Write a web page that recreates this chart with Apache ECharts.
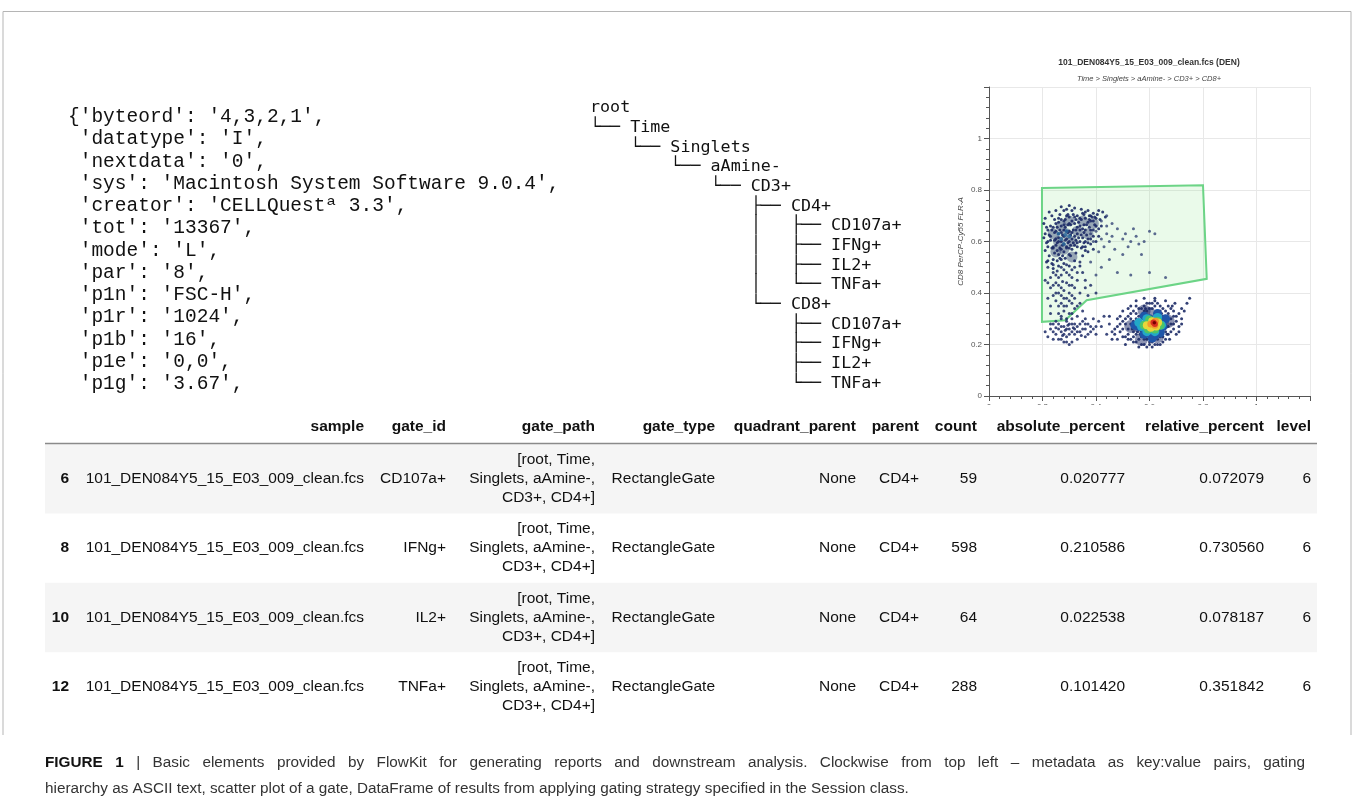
<!DOCTYPE html>
<html>
<head>
<meta charset="utf-8">
<title>FlowKit report elements</title>
<script src="https://cdn.jsdelivr.net/npm/echarts@6/dist/echarts.min.js"></script>
<style>
    body { margin: 0; background: #fff; }
    #chart { width: 1354px; height: 802px; }
</style>
</head>
<body>
<div id="chart"></div>
<script>
// metadata dict (top left)
const metaLines = [
    "{'byteord': '4,3,2,1',",
    " 'datatype': 'I',",
    " 'nextdata': '0',",
    " 'sys': 'Macintosh System Software 9.0.4',",
    " 'creator': 'CELLQuestª 3.3',",
    " 'tot': '13367',",
    " 'mode': 'L',",
    " 'par': '8',",
    " 'p1n': 'FSC-H',",
    " 'p1r': '1024',",
    " 'p1b': '16',",
    " 'p1e': '0,0',",
    " 'p1g': '3.67',"
];

// gating hierarchy as ascii
const treeLines = [
    'root',
    '└── Time',
    '    └── Singlets',
    '        └── aAmine-',
    '            └── CD3+',
    '                ├── CD4+',
    '                │   ├── CD107a+',
    '                │   ├── IFNg+',
    '                │   ├── IL2+',
    '                │   └── TNFa+',
    '                └── CD8+',
    '                    ├── CD107a+',
    '                    ├── IFNg+',
    '                    ├── IL2+',
    '                    └── TNFa+'
];

// scatter plot
const plotTitle = '101_DEN084Y5_15_E03_009_clean.fcs (DEN)';
const plotSubtitle = 'Time > Singlets > aAmine- > CD3+ > CD8+';
const yAxisName = 'CD8 PerCP-Cy55 FLR-A';

const gatePolygon = [[0.198, 0.808], [0.8, 0.818], [0.814, 0.455], [0.365, 0.372], [0.285, 0.294], [0.198, 0.288]];

const cd8Points = [
    [0.23,0.62],[0.24,0.58],[0.25,0.64],[0.26,0.60],[0.27,0.66],[0.28,0.62],[0.29,0.58],[0.30,0.64],[0.31,0.61],[0.32,0.67],
    [0.33,0.63],[0.34,0.60],[0.26,0.55],[0.27,0.57],[0.28,0.68],[0.29,0.70],[0.30,0.55],[0.31,0.68],[0.25,0.67],[0.24,0.53],
    [0.22,0.60],[0.23,0.66],[0.35,0.65],[0.36,0.69],[0.33,0.70],[0.26,0.69],[0.27,0.53],[0.28,0.56],[0.29,0.64],[0.30,0.60],
    [0.31,0.57],[0.32,0.62],[0.33,0.58],[0.34,0.66],[0.25,0.61],[0.26,0.63],[0.27,0.60],[0.28,0.59],[0.29,0.61],[0.30,0.67],
    [0.255,0.565],[0.265,0.645],[0.275,0.625],[0.285,0.655],[0.295,0.595],[0.305,0.625],[0.315,0.645],[0.325,0.605],[0.235,0.575],[0.245,0.605],
    [0.215,0.655],[0.225,0.545],[0.345,0.625],[0.355,0.595],[0.365,0.665],[0.375,0.70],[0.38,0.68],[0.39,0.71],[0.40,0.69],[0.41,0.72],
    [0.37,0.72],[0.35,0.71],[0.32,0.73],[0.30,0.74],[0.28,0.72],[0.265,0.705],[0.245,0.685],[0.235,0.70],[0.22,0.58],[0.21,0.63],
    [0.205,0.67],[0.215,0.52],[0.245,0.635],[0.255,0.595],[0.285,0.605],[0.295,0.635],[0.305,0.585],[0.315,0.595],[0.335,0.675],[0.275,0.585],
    [0.265,0.535],[0.285,0.535],[0.305,0.545],[0.325,0.555],[0.345,0.575],[0.235,0.515],[0.255,0.525],[0.295,0.665],[0.325,0.685],[0.355,0.635],
    [0.215,0.595],[0.225,0.625],[0.235,0.645],[0.245,0.555],[0.255,0.655],[0.265,0.575],[0.275,0.545],[0.285,0.685],[0.295,0.705],[0.305,0.665],
    [0.315,0.705],[0.325,0.645],[0.335,0.615],[0.345,0.685],[0.355,0.665],[0.365,0.625],[0.375,0.655],[0.385,0.695],[0.395,0.665],[0.405,0.705],
    [0.415,0.685],[0.425,0.715],[0.435,0.695],[0.39,0.645],[0.37,0.595],[0.36,0.565],[0.35,0.545],[0.34,0.505],[0.32,0.525],[0.30,0.505],
    [0.28,0.515],[0.26,0.505],[0.24,0.495],[0.22,0.525],[0.21,0.565],[0.205,0.615],[0.21,0.69],[0.225,0.715],[0.25,0.72],[0.27,0.735],
    [0.29,0.725],[0.31,0.72],[0.345,0.725],[0.36,0.715],[0.23,0.605],[0.24,0.575],[0.25,0.585],[0.26,0.615],[0.27,0.635],[0.28,0.645],
    [0.29,0.575],[0.30,0.575],[0.31,0.635],[0.32,0.585],[0.33,0.655],[0.34,0.645],[0.26,0.675],[0.28,0.665],[0.30,0.695],[0.32,0.695],
    [0.24,0.655],[0.22,0.645],[0.27,0.685],[0.33,0.595],[0.35,0.615],[0.37,0.675],[0.38,0.645],[0.36,0.645],
    [0.37,0.61],[0.38,0.59],[0.39,0.62],[0.40,0.60],[0.41,0.65],[0.39,0.68],[0.40,0.66],[0.38,0.70],[0.36,0.58],[0.37,0.56],
    [0.39,0.57],[0.41,0.62],[0.42,0.66],[0.36,0.60],[0.38,0.61],[0.35,0.58],[0.34,0.69],[0.355,0.705],[0.375,0.685],[0.395,0.695]
];

const cd8Sparse = [
    [0.40,0.64],[0.42,0.61],[0.44,0.63],[0.43,0.58],[0.45,0.60],[0.46,0.62],[0.47,0.57],[0.48,0.65],[0.50,0.61],[0.51,0.63],
    [0.52,0.58],[0.53,0.60],[0.55,0.62],[0.56,0.59],[0.58,0.60],[0.60,0.64],[0.62,0.63],[0.57,0.55],[0.50,0.55],[0.45,0.53],
    [0.42,0.50],[0.48,0.48],[0.53,0.47],[0.60,0.48],[0.66,0.46],[0.44,0.66],[0.41,0.56],[0.39,0.60],[0.46,0.67],[0.54,0.65],
    [0.38,0.52],[0.40,0.47],[0.42,0.68],[0.44,0.70],[0.38,0.63]
];

const cd8Trail = [
    [0.22,0.50],[0.24,0.48],[0.26,0.46],[0.28,0.49],[0.30,0.47],[0.32,0.50],[0.25,0.44],[0.27,0.42],[0.29,0.44],[0.31,0.43],
    [0.33,0.45],[0.23,0.42],[0.26,0.40],[0.28,0.38],[0.30,0.40],[0.32,0.38],[0.27,0.36],[0.29,0.35],[0.31,0.36],[0.25,0.37],
    [0.28,0.33],[0.30,0.32],[0.32,0.34],[0.34,0.36],[0.26,0.32],[0.22,0.38],[0.21,0.45],[0.35,0.48],[0.36,0.42],[0.24,0.51],
    [0.29,0.51],[0.34,0.52],[0.27,0.47],[0.31,0.46],[0.25,0.40],[0.23,0.35],[0.37,0.39],[0.33,0.31],[0.255,0.485],[0.275,0.445],
    [0.23,0.46],[0.25,0.47],[0.27,0.50],[0.29,0.48],[0.31,0.49],[0.33,0.48],[0.24,0.43],[0.26,0.43],[0.28,0.41],[0.30,0.43],
    [0.32,0.42],[0.34,0.40],[0.24,0.39],[0.27,0.39],[0.29,0.38],[0.31,0.39],[0.26,0.35],[0.28,0.35],[0.30,0.37],[0.33,0.35],
    [0.27,0.31],[0.29,0.30],[0.31,0.32],[0.23,0.32],[0.35,0.33],[0.22,0.44],[0.36,0.45],[0.38,0.43],[0.40,0.40]
];

const cd8Dense = [[0.26,0.60],[0.29,0.63],[0.27,0.66],[0.31,0.60],[0.25,0.56],[0.30,0.68],[0.33,0.64],[0.28,0.57],[0.24,0.63],[0.35,0.68],[0.31,0.54],[0.37,0.63],[0.39,0.67]];
const cd8Mid = [[0.27,0.61],[0.29,0.64],[0.28,0.59],[0.30,0.62],[0.26,0.63],[0.285,0.625]];

const lowPoints = [
    [0.23,0.26],[0.25,0.24],[0.26,0.28],[0.27,0.25],[0.28,0.27],[0.29,0.23],[0.30,0.26],[0.31,0.28],[0.32,0.24],[0.33,0.27],
    [0.34,0.25],[0.35,0.29],[0.36,0.26],[0.37,0.28],[0.38,0.25],[0.40,0.27],[0.41,0.29],[0.39,0.30],[0.28,0.21],[0.30,0.20],
    [0.26,0.22],[0.24,0.28],[0.31,0.30],[0.33,0.22],[0.36,0.23],[0.29,0.29],[0.27,0.30],[0.32,0.26],[0.34,0.28],[0.30,0.24],
    [0.25,0.265],[0.285,0.255],[0.315,0.265],[0.345,0.235],[0.22,0.23],[0.44,0.24],[0.46,0.25],[0.43,0.31],[0.295,0.275],[0.275,0.235],
    [0.24,0.25],[0.26,0.26],[0.27,0.27],[0.28,0.24],[0.29,0.26],[0.30,0.28],[0.31,0.25],[0.32,0.28],[0.33,0.25],[0.35,0.26],
    [0.36,0.28],[0.37,0.24],[0.38,0.27],[0.39,0.26],[0.42,0.27],[0.27,0.22],[0.29,0.21],[0.25,0.29],[0.23,0.28],[0.21,0.25],
    [0.24,0.22],[0.40,0.24],[0.45,0.28],[0.48,0.22],[0.31,0.21],[0.36,0.30]
];

const cd4Points = [
    [0.48,0.27],[0.49,0.25],[0.50,0.29],[0.51,0.23],[0.52,0.31],[0.52,0.26],[0.53,0.28],[0.53,0.22],[0.54,0.33],[0.54,0.25],
    [0.55,0.30],[0.55,0.21],[0.56,0.27],[0.56,0.34],[0.57,0.23],[0.57,0.31],[0.58,0.20],[0.58,0.35],[0.59,0.22],[0.59,0.33],
    [0.60,0.36],[0.60,0.21],[0.61,0.19],[0.61,0.34],[0.62,0.22],[0.62,0.37],[0.63,0.20],[0.63,0.33],[0.64,0.35],[0.64,0.23],
    [0.65,0.31],[0.65,0.21],[0.66,0.27],[0.66,0.33],[0.67,0.24],[0.67,0.30],[0.68,0.28],[0.68,0.34],[0.69,0.26],[0.69,0.31],
    [0.70,0.29],[0.71,0.27],[0.72,0.30],[0.70,0.24],[0.50,0.33],[0.49,0.31],[0.47,0.24],[0.51,0.20],[0.55,0.37],[0.58,0.38],
    [0.62,0.38],[0.66,0.37],[0.74,0.36],[0.45,0.31],[0.46,0.22],[0.53,0.35],[0.56,0.19],[0.60,0.31],[0.57,0.25],[0.59,0.29],
    [0.63,0.25],[0.64,0.30],[0.58,0.27],[0.55,0.24],[0.54,0.29],[0.66,0.22],[0.67,0.35],[0.52,0.34],[0.61,0.24],[0.62,0.32],
    [0.50,0.26],[0.51,0.28],[0.51,0.30],[0.52,0.24],[0.52,0.22],[0.53,0.30],[0.53,0.32],[0.54,0.23],[0.54,0.21],[0.55,0.32],
    [0.55,0.35],[0.56,0.22],[0.56,0.31],[0.57,0.20],[0.57,0.34],[0.58,0.22],[0.58,0.33],[0.59,0.19],[0.59,0.36],[0.60,0.20],
    [0.60,0.34],[0.61,0.21],[0.61,0.36],[0.62,0.20],[0.62,0.35],[0.63,0.22],[0.63,0.36],[0.64,0.20],[0.64,0.33],[0.65,0.23],
    [0.65,0.34],[0.66,0.25],[0.66,0.31],[0.67,0.27],[0.67,0.32],[0.68,0.25],[0.68,0.30],[0.69,0.28],[0.69,0.33],[0.70,0.31],
    [0.71,0.25],[0.71,0.32],[0.72,0.28],[0.73,0.33],[0.49,0.28],[0.48,0.30],[0.47,0.26],[0.50,0.23],[0.535,0.26],[0.545,0.27],
    [0.555,0.25],[0.565,0.24],[0.575,0.32],[0.585,0.34],[0.645,0.32],[0.655,0.29],[0.665,0.24],[0.675,0.22],[0.685,0.35],[0.695,0.36],
    [0.72,0.34],[0.75,0.38]
];
const cd4Dense = [[0.56,0.27],[0.60,0.24],[0.60,0.32],[0.65,0.28],[0.53,0.27],[0.63,0.23],[0.67,0.29],[0.57,0.22],[0.58,0.33]];
const heatBlue = [[0.56,0.27],[0.58,0.24],[0.58,0.31],[0.62,0.235],[0.63,0.32],[0.65,0.27],[0.60,0.30],[0.545,0.275],[0.66,0.30],[0.61,0.225],[0.64,0.245]];
const heatCyan = [[0.57,0.27],[0.59,0.25],[0.59,0.30],[0.62,0.25],[0.63,0.305],[0.645,0.275],[0.56,0.285]];
const heatGreen = [[0.58,0.275],[0.595,0.26],[0.60,0.295],[0.62,0.26],[0.63,0.29],[0.64,0.275]];
const heatYellow = [[0.59,0.275],[0.605,0.265],[0.61,0.29],[0.625,0.27],[0.632,0.285]];
const heatOrange = [[0.605,0.28],[0.62,0.275],[0.622,0.29]];
const heatRed = [[0.615,0.285],[0.62,0.28]];
const heatPeak = [[0.618,0.284]];

// results table
const tableHeader = ['', 'sample', 'gate_id', 'gate_path', 'gate_type', 'quadrant_parent', 'parent', 'count', 'absolute_percent', 'relative_percent', 'level'];
const rowIndex = ['6', '8', '10', '12'];
const sampleCol = ['101_DEN084Y5_15_E03_009_clean.fcs', '101_DEN084Y5_15_E03_009_clean.fcs', '101_DEN084Y5_15_E03_009_clean.fcs', '101_DEN084Y5_15_E03_009_clean.fcs'];
const gateIdCol = ['CD107a+', 'IFNg+', 'IL2+', 'TNFa+'];
const gatePathCol = ['[root, Time,\nSinglets, aAmine-,\nCD3+, CD4+]', '[root, Time,\nSinglets, aAmine-,\nCD3+, CD4+]', '[root, Time,\nSinglets, aAmine-,\nCD3+, CD4+]', '[root, Time,\nSinglets, aAmine-,\nCD3+, CD4+]'];
const gateTypeCol = ['RectangleGate', 'RectangleGate', 'RectangleGate', 'RectangleGate'];
const quadrantCol = ['None', 'None', 'None', 'None'];
const parentCol = ['CD4+', 'CD4+', 'CD4+', 'CD4+'];
const countCol = ['59', '598', '64', '288'];
const absPctCol = ['0.020777', '0.210586', '0.022538', '0.101420'];
const relPctCol = ['0.072079', '0.730560', '0.078187', '0.351842'];
const levelCol = ['6', '6', '6', '6'];

const captionLine1 = '| Basic elements provided by FlowKit for generating reports and downstream analysis. Clockwise from top left – metadata as key:value pairs, gating';
const captionLine2 = 'hierarchy as ASCII text, scatter plot of a gate, DataFrame of results from applying gating strategy specified in the Session class.';


// layout
const colRight = [69, 364, 446, 595, 715, 856, 919, 977, 1125, 1264, 1311];
const rowTop = 444, rowH = 69.4;
const sans = '"Liberation Sans", Arial, Helvetica, sans-serif';
const capFont = '15.3px ' + sans;
const capBoldFont = 'bold 15.3px ' + sans;

function txt(x, y, text, font, fill, align, extra) {
    let el = {
        type: 'text', z: 60, silent: true,
        style: Object.assign({
            x: x, y: y, text: text, font: font, fill: fill,
            textAlign: align || 'left', align: align || 'left',
            textVerticalAlign: 'middle', verticalAlign: 'middle'
        }, extra || {})
    };
    return el;
}

let graphics = [];

// frame
graphics.push({ type: 'polyline', z: 10, silent: true, shape: { points: [[3, 735], [3, 11.5], [1351, 11.5], [1351, 735]] }, style: { stroke: '#b5b5b5', lineWidth: 1, fill: null } });

metaLines.forEach(function (line, i) {
    graphics.push(txt(68, 117 + i * 22.25, line, '19.5px "Liberation Mono", "Courier New", monospace', '#111'));
});

treeLines.forEach(function (line, i) {
    graphics.push(txt(590, 108 + i * 19.68, line, '16.7px "DejaVu Sans Mono", monospace', '#111'));
});

graphics.push(txt(1149, 63, plotTitle, 'bold 8.5px ' + sans, '#333', 'center'));
graphics.push(txt(1149, 79, plotSubtitle, 'italic 7.5px ' + sans, '#444', 'center'));

// hide the clipped x tick labels like the original crop
graphics.push({ type: 'rect', z: 50, silent: true, shape: { x: 940, y: 405, width: 380, height: 14 }, style: { fill: '#fff' } });

// table
tableHeader.forEach(function (h, c) {
    if (h) graphics.push(txt(colRight[c], 427, h, 'bold 15.5px ' + sans, '#111', 'right'));
});
graphics.push({ type: 'line', z: 55, silent: true, shape: { x1: 45, y1: 443.5, x2: 1317, y2: 443.5 }, style: { stroke: '#8a8a8a', lineWidth: 1.5 } });

let cols = [rowIndex, sampleCol, gateIdCol, gatePathCol, gateTypeCol, quadrantCol, parentCol, countCol, absPctCol, relPctCol, levelCol];
rowIndex.forEach(function (r, i) {
    let yc = rowTop + rowH * i + rowH / 2;
    if (i % 2 == 0) {
        graphics.push({ type: 'rect', z: 20, silent: true, shape: { x: 45, y: rowTop + rowH * i, width: 1272, height: rowH }, style: { fill: '#f5f5f5' } });
    }
    cols.forEach(function (col, c) {
        let font = (c == 0 ? 'bold ' : '') + '15.5px ' + sans;
        graphics.push(txt(colRight[c], yc, col[i], font, '#111', 'right', { lineHeight: 19 }));
    });
});

// caption, first line justified to the column width
let ctx = document.createElement('canvas').getContext('2d');
function measure(s, font) { ctx.font = font; return ctx.measureText(s).width; }

let words = [{ s: 'FIGURE', f: capBoldFont, c: '#111' }, { s: '1', f: capBoldFont, c: '#111' }];
captionLine1.split(' ').forEach(function (w) { words.push({ s: w, f: capFont, c: '#333' }); });
let total = 0;
words.forEach(function (w) { w.w = measure(w.s, w.f); total += w.w; });
let gap = (1305 - 45 - total) / (words.length - 1);
let cx = 45;
words.forEach(function (w) {
    graphics.push(txt(cx, 763, w.s, w.f, w.c));
    cx += w.w + gap;
});
graphics.push(txt(45, 789, captionLine2, capFont, '#333'));


function axisCommon() {
    return {
        type: 'value', min: 0, max: 1.2, interval: 0.2,
        axisLine: { onZero: false, lineStyle: { color: '#555', width: 1 } },
        axisTick: { length: 5, lineStyle: { color: '#555' } },
        minorTick: { show: true, splitNumber: 5, length: 3, lineStyle: { color: '#555' } },
        splitLine: { lineStyle: { color: '#e8e8e8' } },
        axisLabel: {
            fontSize: 8, color: '#555', fontFamily: sans, margin: 7,
            formatter: function (v) { return v > 1.1 ? '' : String(+v.toFixed(1)); }
        }
    };
}

function dots(data, size, color, opacity, z) {
    return {
        type: 'scatter', data: data, symbolSize: size, silent: true, z: z,
        itemStyle: { color: color, opacity: opacity, borderWidth: 0 }
    };
}

var myChart = echarts.init(document.getElementById('chart'));

option = {
    animation: false,
    backgroundColor: '#fff',
    grid: { left: 989, top: 87, width: 321, height: 309 },
    xAxis: axisCommon(),
    yAxis: Object.assign(axisCommon(), {
        name: yAxisName, nameLocation: 'middle', nameRotate: 90, nameGap: 24,
        nameTextStyle: { fontSize: 8, fontStyle: 'italic', color: '#444', fontFamily: sans }
    }),
    graphic: { elements: graphics },
    series: [
        {
            type: 'custom', z: 1, silent: true,
            data: [gatePolygon[0]],
            renderItem: function (params, api) {
                return {
                    type: 'polygon',
                    shape: { points: gatePolygon.map(function (p) { return api.coord(p); }) },
                    style: { fill: 'rgba(150,230,150,0.2)', stroke: '#6cd486', lineWidth: 2 }
                };
            }
        },
        dots(cd8Dense, 11, '#1c2a66', 0.4, 2),
        dots(cd4Dense, 13, '#1c2a66', 0.5, 2),
        dots(cd8Points, 3, '#1c2a66', 0.9, 3),
        dots(cd8Sparse, 3, '#2a3a70', 0.75, 3),
        dots(cd8Trail, 3, '#1c2a66', 0.85, 3),
        dots(lowPoints, 3, '#1c2a66', 0.85, 3),
        dots(cd4Points, 3, '#1c2a66', 0.9, 3),
        dots(cd8Mid, 4, '#2a6a9e', 0.8, 4),
        dots(heatBlue, 9, '#1f55a8', 1, 5),
        dots(heatCyan, 9, '#22a8c8', 1, 6),
        dots(heatGreen, 9, '#4cc468', 1, 7),
        dots(heatYellow, 8, '#e8d63a', 1, 8),
        dots(heatOrange, 7, '#f29a2e', 1, 9),
        dots(heatRed, 6, '#d8301f', 1, 10),
        dots(heatPeak, 3.5, '#7a0000', 1, 11)
    ]
};

myChart.setOption(option);
</script>
</body>
</html>
